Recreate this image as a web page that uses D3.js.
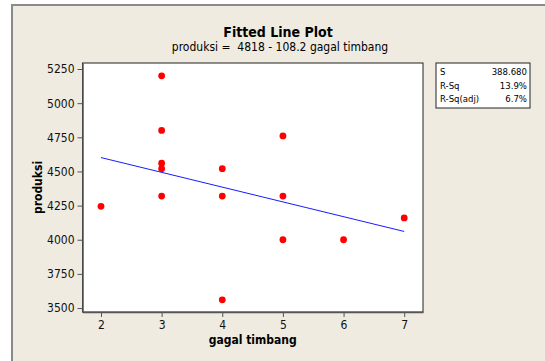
<!DOCTYPE html>
<html lang="en">
<head>
<meta charset="UTF-8">
<title>Fitted Line Plot</title>
<style>
  body { margin: 0; background: #fff; }
  svg text { font-family: "Liberation Sans", Arial, sans-serif; }
</style>
</head>
<body>
<svg id="chart" width="545" height="361"></svg>
<script src="https://d3js.org/d3.v7.min.js"></script>
<script>
// data
var gagalTimbang = [2, 3, 3, 3, 3, 3, 4, 4, 4, 5, 5, 5, 6, 7];
var produksi = [4245, 5200, 4800, 4560, 4520, 4320, 4520, 4320, 3560, 4760, 4320, 4000, 4000, 4160];
var xTicks = [2, 3, 4, 5, 6, 7];
var yTicks = [3500, 3750, 4000, 4250, 4500, 4750, 5000, 5250];
var fitIntercept = 4818;
var fitSlope = -108.2;
var statLabels = ["S", "R-Sq", "R-Sq(adj)"];
var statValues = ["388.680", "13.9%", "6.7%"];

var svg = d3.select("#chart");
var font = "'DejaVu Sans Condensed', 'Liberation Sans', sans-serif";

// beige panel with the grey frame
svg.append("rect")
  .attr("x", 12).attr("y", 5)
  .attr("width", 545).attr("height", 370)
  .attr("fill", "#efebe1")
  .attr("stroke", "#8a8a8a")
  .attr("stroke-width", 2);

var pLeft = 82.5, pRight = 423, pTop = 63, pBottom = 312;

var x = d3.scaleLinear().domain([1.695, 7.31]).range([pLeft, pRight]);
var y = d3.scaleLinear().domain([3471, 5294]).range([pBottom, pTop]);

svg.append("rect")
  .attr("x", pLeft).attr("y", pTop)
  .attr("width", pRight - pLeft).attr("height", pBottom - pTop)
  .attr("fill", "#fff")
  .attr("stroke", "#222")
  .attr("stroke-width", 1);

// axes
var xAxis = svg.append("g")
  .attr("transform", "translate(0," + pBottom + ")")
  .call(d3.axisBottom(x).tickValues(xTicks).tickFormat(d3.format("d"))
    .tickSize(5).tickPadding(3).tickSizeOuter(0));
var yAxis = svg.append("g")
  .attr("transform", "translate(" + pLeft + ",0)")
  .call(d3.axisLeft(y).tickValues(yTicks).tickFormat(d3.format("d"))
    .tickSize(5).tickPadding(3).tickSizeOuter(0));

[xAxis, yAxis].forEach(function(g) {
  g.select(".domain").attr("stroke", "#555").attr("stroke-width", 1.5);
  g.selectAll(".tick line").attr("stroke", "#555");
  g.selectAll(".tick text")
    .attr("fill", "#111")
    .style("font-size", "12px")
    .style("font-family", font);
});

// fitted line
var line = d3.line()
  .x(function(d) { return x(d); })
  .y(function(d) { return y(fitIntercept + fitSlope * d); });
svg.append("path")
  .datum(d3.extent(gagalTimbang))
  .attr("d", line)
  .attr("fill", "none")
  .attr("stroke", "#1a1aff")
  .attr("stroke-width", 1);

// points
svg.selectAll("circle.pt")
  .data(gagalTimbang)
  .enter()
  .append("circle")
  .attr("class", "pt")
  .attr("cx", function(d) { return x(d); })
  .attr("cy", function(d, i) { return y(produksi[i]); })
  .attr("r", 3.4)
  .attr("fill", "#ff0000");

// titles
svg.append("text")
  .attr("x", 278).attr("y", 37)
  .attr("text-anchor", "middle")
  .style("font-size", "14px")
  .style("font-weight", "bold")
  .style("font-family", font)
  .text("Fitted Line Plot");
svg.append("text")
  .attr("x", 280).attr("y", 51)
  .attr("text-anchor", "middle")
  .style("font-size", "12px")
  .style("font-family", font)
  .style("white-space", "pre")
  .text("produksi =  4818 - 108.2 gagal timbang");

svg.append("text")
  .attr("x", (pLeft + pRight) / 2).attr("y", 344)
  .attr("text-anchor", "middle")
  .style("font-size", "12px")
  .style("font-weight", "bold")
  .style("font-family", font)
  .text("gagal timbang");
svg.append("text")
  .attr("transform", "translate(42," + (pTop + pBottom) / 2 + ") rotate(-90)")
  .attr("text-anchor", "middle")
  .style("font-size", "12px")
  .style("font-weight", "bold")
  .style("font-family", font)
  .text("produksi");

// stats box
svg.append("rect")
  .attr("x", 436).attr("y", 63)
  .attr("width", 94).attr("height", 45)
  .attr("fill", "#fff")
  .attr("stroke", "#222");
var rows = svg.append("g").selectAll("g")
  .data(statLabels)
  .enter()
  .append("g")
  .attr("transform", function(d, i) { return "translate(0," + (75 + i * 13.5) + ")"; });
rows.append("text")
  .attr("x", 440)
  .style("font-size", "9.5px")
  .style("font-family", font)
  .text(function(d) { return d; });
rows.append("text")
  .attr("x", 527)
  .attr("text-anchor", "end")
  .style("font-size", "9.5px")
  .style("font-family", font)
  .text(function(d, i) { return statValues[i]; });
</script>
</body>
</html>
